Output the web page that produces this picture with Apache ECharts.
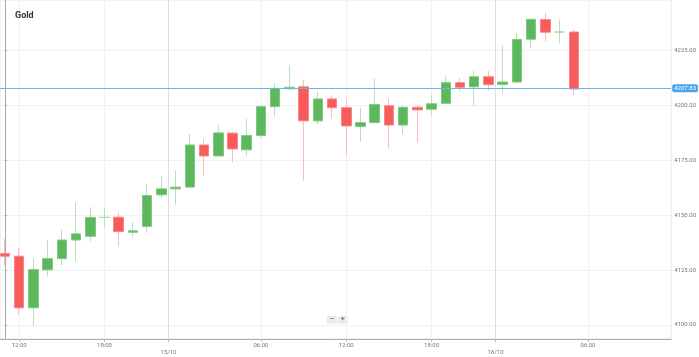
<!DOCTYPE html>
<html>
<head>
<meta charset="utf-8">
<script src="https://cdn.jsdelivr.net/npm/echarts@6/dist/echarts.min.js"></script>
<style>html,body{margin:0;padding:0;background:#fff}#c{width:699px;height:357px}</style>
</head>
<body>
<div id="c"></div>
<script>
// Hourly candles, index 0 = 14/10 11:00
const opens  = [4132.5,4131.3,4107.8,4125.1,4130.2,4138.7,4140.4,4149.0,4149.1,4142.2,4144.9,4159.3,4162.0,4162.8,4182.0,4177.0,4187.4,4179.8,4186.3,4199.5,4207.6,4208.5,4193.0,4203.0,4199.0,4190.4,4192.2,4199.9,4191.1,4199.2,4198.3,4201.0,4210.4,4208.5,4213.1,4209.6,4210.7,4230.2,4239.2,4233.5,4233.5];
const closes = [4131.3,4107.8,4125.2,4130.2,4138.7,4141.5,4149.0,4149.0,4142.5,4142.9,4159.0,4162.0,4162.8,4182.0,4177.0,4187.5,4180.2,4186.3,4199.5,4207.8,4208.3,4193.0,4203.0,4199.0,4190.7,4192.2,4200.5,4191.1,4199.2,4198.0,4200.8,4210.4,4208.3,4213.1,4209.5,4210.7,4230.1,4239.3,4233.4,4233.5,4207.5];
const lows   = [4127.0,4104.8,4099.5,4122.2,4127.2,4129.0,4138.1,4144.2,4135.7,4140.1,4141.9,4157.8,4154.8,4162.5,4168.0,4177.0,4174.0,4177.2,4185.1,4194.9,4207.6,4165.7,4191.1,4194.2,4177.2,4183.5,4192.2,4180.5,4187.0,4183.1,4195.7,4201.0,4206.3,4199.9,4206.7,4205.5,4210.7,4226.3,4229.3,4228.3,4204.8];
const highs  = [4139.2,4135.2,4130.4,4138.4,4143.4,4155.8,4153.7,4153.3,4151.1,4146.9,4164.2,4167.6,4170.5,4187.0,4184.8,4191.1,4188.1,4193.9,4200.2,4210.1,4218.4,4211.9,4206.3,4204.8,4202.8,4199.0,4212.4,4203.3,4199.9,4199.8,4204.8,4213.4,4212.6,4215.8,4215.8,4227.5,4232.8,4239.3,4242.2,4239.2,4234.6];
const lastPrice = 4207.83;
const xTickPos    = [1, 7, 11.5, 18, 24, 30, 34.5, 41];
const xTickLabels = ['12:00', '18:00', '15/10', '06:00', '12:00', '18:00', '16/10', '06:00'];
const dateSeparators = [11.5, 34.5];
const yTicks = [4100, 4125, 4150, 4175, 4200, 4225];

const wickData = opens.map((o, i) => [i, o, closes[i], lows[i], highs[i]]);
const bodyData = opens.map((o, i) => [i, o, closes[i], Math.min(o, closes[i]), Math.max(o, closes[i])]);
const labelMap = {};
xTickPos.forEach((p, i) => { labelMap[p] = dateSeparators.indexOf(p) >= 0 ? '\n' + xTickLabels[i] : xTickLabels[i]; });

const chart = echarts.init(document.getElementById('c'), null, {renderer: 'canvas'});
const FONT = 'Roboto';
chart.setOption({
  animation: false,
  backgroundColor: '#fff',
  textStyle: {fontFamily: FONT},
  title: {text: 'Gold', left: 10, top: 6, textStyle: {fontSize: 9, fontWeight: 'bold', color: '#333', fontFamily: FONT}},
  grid: {left: 0, right: 24, top: 0, bottom: 18, show: true, borderColor: '#e8e8e8', borderWidth: 1},
  xAxis: {
    type: 'value', min: -0.35, max: 46.85,
    axisLine: {show: true, lineStyle: {color: '#aaa'}},
    axisTick: {show: true, length: 3, lineStyle: {color: '#bbb'}, customValues: xTickPos},
    axisLabel: {customValues: xTickPos, formatter: v => labelMap[v] !== undefined ? labelMap[v] : '', fontSize: 6, color: '#777', margin: 3, lineHeight: 7, fontFamily: FONT},
    splitLine: {show: true, lineStyle: {color: '#f1f1f1', width: 1}}
  },
  yAxis: {
    type: 'value', position: 'right', min: 4093.57, max: 4248.09, scale: true,
    axisLine: {show: true, lineStyle: {color: '#aaa'}},
    axisTick: {show: true, length: 2, lineStyle: {color: '#aaa'}, customValues: yTicks},
    axisLabel: {customValues: yTicks, formatter: v => v.toFixed(2), fontSize: 6, color: '#777', margin: 3, fontFamily: FONT},
    splitLine: {show: true, lineStyle: {color: '#f1f1f1'}}
  },
  series: [
    {
      type: 'candlestick', name: 'wick', data: wickData, barWidth: 1,
      itemStyle: {color: 'rgba(0,0,0,0)', color0: 'rgba(0,0,0,0)', borderColor: '#b9e0b9', borderColor0: '#fbbcbc', borderColorDoji: '#b9e0b9', borderWidth: 1},
      z: 2,
      markLine: {
        silent: true, symbol: 'none', animation: false,
        lineStyle: {color: '#dddddd', width: 1, type: 'solid'},
        label: {show: false},
        data: dateSeparators.map(v => ({xAxis: v}))
      }
    },
    {
      type: 'candlestick', name: 'body', data: bodyData, barWidth: 10,
      itemStyle: {color: '#5cb85c', color0: '#f75b5b', borderColor: '#80c880', borderColor0: '#f98585', borderColorDoji: '#a5d8a5', borderWidth: 1},
      z: 3,
      markLine: {
        silent: true, symbol: 'none', animation: false,
        lineStyle: {color: '#6ab4ea', width: 1, type: 'solid'},
        label: {show: true, position: 'end', formatter: lastPrice.toFixed(2), color: '#fff', backgroundColor: '#4aa3ec', borderRadius: 2, padding: [1, 2], fontSize: 6, distance: 1, fontFamily: FONT},
        data: [{yAxis: lastPrice}]
      }
    }
  ],
  graphic: [
    {type: 'rect', left: 327, top: 316, shape: {width: 10, height: 8, r: 1}, style: {fill: '#ececec'}},
    {type: 'text', left: 329.5, top: 315, style: {text: '−', fontSize: 8, fill: '#444', fontFamily: FONT}},
    {type: 'rect', left: 338, top: 316, shape: {width: 10, height: 8, r: 1}, style: {fill: '#ececec'}},
    {type: 'text', left: 340.5, top: 315, style: {text: '+', fontSize: 8, fill: '#444', fontFamily: FONT}}
  ]
});
</script>
</body>
</html>
